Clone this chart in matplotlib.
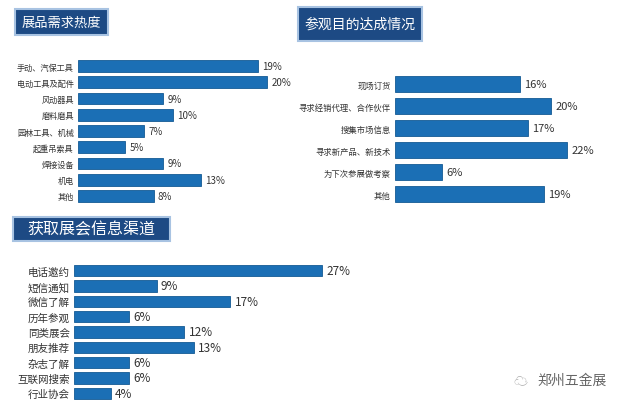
import matplotlib
matplotlib.use("Agg")
import matplotlib.pyplot as plt
from matplotlib.patches import Rectangle

plt.rcParams['font.family'] = ['Noto Sans CJK SC', 'DejaVu Sans']

# data
demand_labels = ['手动、汽保工具', '电动工具及配件', '风动器具', '磨料磨具', '园林工具、机械',
                 '起重吊索具', '焊接设备', '机电', '其他']
demand_values = [19, 20, 9, 10, 7, 5, 9, 13, 8]

goal_labels = ['现场订货', '寻求经销代理、合作伙伴', '搜集市场信息', '寻求新产品、新技术',
               '为下次参展做考察', '其他']
goal_values = [16, 20, 17, 22, 6, 19]

channel_labels = ['电话邀约', '短信通知', '微信了解', '历年参观', '同类展会', '朋友推荐',
                  '杂志了解', '互联网搜索', '行业协会']
channel_values = [27, 9, 17, 6, 12, 13, 6, 6, 4]

W, H = 630, 410
BAR = '#1b6fb5'
EDGE = '#145a94'
BOX = '#1d4a84'

fig = plt.figure(figsize=(W / 100, H / 100), dpi=100)
fig.patch.set_facecolor('white')


def px_axes(left, top, right, bottom):
    # pixel box (from top-left) -> figure axes
    return fig.add_axes([left / W, 1 - bottom / H, (right - left) / W, (bottom - top) / H])


def panel(labels, values, left, top, bottom, scale, lab_size, val_size, height):
    right = left + 280
    ax = px_axes(left, top, right, bottom)
    n = len(values)
    bars = ax.barh(range(n), values, height=height, color=BAR, edgecolor=EDGE, linewidth=0.6)
    ax.set_xlim(0, (right - left) / scale)
    ax.set_ylim(n - 0.5, -0.5)
    ax.set_yticks(range(n))
    ax.set_yticklabels(labels, fontsize=lab_size, color='#333333')
    ax.tick_params(axis='y', length=0, pad=3)
    ax.set_xticks([])
    for s in ax.spines.values():
        s.set_visible(False)
    ax.patch.set_alpha(0)
    ax.bar_label(bars, fmt='%d%%', padding=3, fontsize=val_size, color='#333333')
    return ax


def title_box(text, left, top, right, bottom, size):
    fig.patches.append(Rectangle((left / W, 1 - bottom / H), (right - left) / W, (bottom - top) / H,
                                 transform=fig.transFigure, facecolor=BOX, edgecolor='#a8c3e2',
                                 linewidth=1.5, zorder=0))
    fig.text((left + right) / 2 / W, 1 - (top + bottom) / 2 / H, text, color='white',
             fontsize=size, ha='center', va='center')


panel(demand_labels, demand_values, 78, 59, 205, 9.45, 5.9, 7, 0.72)
panel(goal_labels, goal_values, 395, 74, 206, 7.82, 6.0, 8, 0.7)
panel(channel_labels, channel_values, 74, 264, 402, 9.2, 7.6, 8.5, 0.72)

title_box('展品需求热度', 15, 10, 108, 36, 9.5)
title_box('参观目的达成情况', 298, 8, 422, 42, 10)
title_box('获取展会信息渠道', 13, 218, 170, 242, 11.5)

# watermark
fig.text(572 / W, 1 - 381 / H, '郑州五金展', color='#666666', fontsize=10, ha='center', va='center')
fig.text(520 / W, 1 - 381 / H, '☁', color='#aaaaaa', fontsize=10, ha='center', va='center')

fig.savefig('out.png', dpi=100, facecolor='white')
